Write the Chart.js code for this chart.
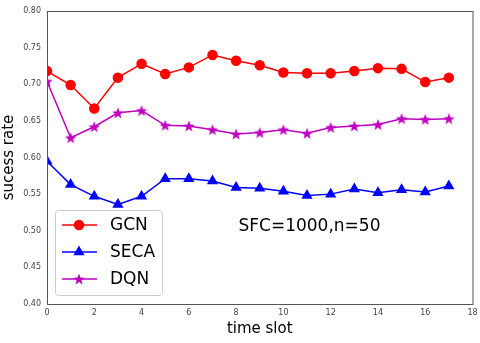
<!DOCTYPE html>
<html>
<head>
<meta charset="utf-8">
<script src="https://cdn.jsdelivr.net/npm/chart.js@4"></script>
<style>
  html, body { margin: 0; padding: 0; background: #fff; }
  #wrap { width: 480px; height: 343px; position: relative; }
</style>
</head>
<body>
<div id="wrap"><canvas id="chart"></canvas></div>
<script>
// time slots 0..17
const timeSlots = [0, 1, 2, 3, 4, 5, 6, 7, 8, 9, 10, 11, 12, 13, 14, 15, 16, 17];
const gcnRate  = [0.718, 0.699, 0.667, 0.709, 0.728, 0.714, 0.723, 0.740, 0.732, 0.726, 0.716, 0.715, 0.715, 0.718, 0.722, 0.721, 0.703, 0.709];
const secaRate = [0.595, 0.563, 0.547, 0.536, 0.547, 0.571, 0.571, 0.568, 0.559, 0.558, 0.554, 0.548, 0.550, 0.557, 0.552, 0.556, 0.553, 0.561];
const dqnRate  = [0.704, 0.627, 0.642, 0.661, 0.664, 0.644, 0.643, 0.638, 0.632, 0.634, 0.638, 0.633, 0.641, 0.643, 0.645, 0.653, 0.652, 0.653];
const seriesNames = ['GCN', 'SECA', 'DQN'];
const note = 'SFC=1000,n=50';

const FONT = '"DejaVu Sans", sans-serif';

function pts(vals) {
    return timeSlots.map((t, i) => ({ x: t, y: vals[i] }));
}

// filled five point star, matplotlib '*' style
function makeStar(color, size) {
    const cv = document.createElement('canvas');
    cv.width = size; cv.height = size;
    const c = cv.getContext('2d');
    const cx = size / 2, cy = size / 2 + 0.6;
    const R = size / 2, r = R * 0.42;
    c.beginPath();
    for (let i = 0; i < 10; i++) {
        const rad = i % 2 === 0 ? R : r;
        const ang = -Math.PI / 2 + i * Math.PI / 5;
        const px = cx + rad * Math.cos(ang), py = cy + rad * Math.sin(ang);
        if (i === 0) c.moveTo(px, py); else c.lineTo(px, py);
    }
    c.closePath();
    c.fillStyle = color;
    c.fill();
    return cv;
}
const starImg = makeStar('#bf00bf', 12);

// frame around the plot area
const framePlugin = {
    id: 'frame',
    afterDatasetsDraw(chart) {
        const a = chart.chartArea, c = chart.ctx;
        c.save();
        c.strokeStyle = '#555';
        c.lineWidth = 1;
        c.strokeRect(a.left + 0.5, a.top + 0.5, a.right - a.left, a.bottom - a.top);
        c.restore();
    }
};

// text note + legend drawn inside the plot
const insidePlugin = {
    id: 'inside',
    afterDraw(chart) {
        const c = chart.ctx;
        const xs = chart.scales.x, ys = chart.scales.y;
        c.save();
        c.fillStyle = '#000';
        c.font = '17px ' + FONT;
        c.textBaseline = 'middle';
        c.textAlign = 'left';
        c.fillText(note, xs.getPixelForValue(8.1), ys.getPixelForValue(0.506));

        // legend box
        const bx = 55, by = 210, bw = 107, bh = 85;
        c.fillStyle = 'rgba(255,255,255,0.8)';
        c.strokeStyle = '#ccc';
        c.lineWidth = 1;
        c.beginPath();
        c.roundRect(bx + 0.5, by + 0.5, bw, bh, 3);
        c.fill();
        c.stroke();

        chart.data.datasets.forEach((ds, i) => {
            const y = by + 15 + i * 27;
            c.strokeStyle = ds.borderColor;
            c.lineWidth = 1.5;
            c.beginPath();
            c.moveTo(bx + 7, y);
            c.lineTo(bx + 42, y);
            c.stroke();
            c.fillStyle = ds.pointBackgroundColor;
            c.strokeStyle = ds.pointBorderColor;
            Chart.helpers.drawPoint(c, {
                pointStyle: ds.pointStyle,
                radius: ds.pointRadius,
                borderWidth: 1
            }, bx + 24, y);
            c.fillStyle = '#000';
            c.font = '17px ' + FONT;
            c.fillText(ds.label, bx + 55, y + 1);
        });
        c.restore();
    }
};

const config = {
    type: 'line',
    data: {
        datasets: [
            {
                label: seriesNames[0],
                data: pts(gcnRate),
                borderColor: '#ff0000',
                backgroundColor: '#ff0000',
                pointBackgroundColor: '#ff0000',
                pointBorderColor: '#ff0000',
                pointStyle: 'circle',
                pointRadius: 4.5,
                borderWidth: 1.5
            },
            {
                label: seriesNames[1],
                data: pts(secaRate),
                borderColor: '#0000ff',
                backgroundColor: '#0000ff',
                pointBackgroundColor: '#0000ff',
                pointBorderColor: '#0000ff',
                pointStyle: 'triangle',
                pointRadius: 5,
                borderWidth: 1.5
            },
            {
                label: seriesNames[2],
                data: pts(dqnRate),
                borderColor: '#bf00bf',
                backgroundColor: '#bf00bf',
                pointBackgroundColor: '#bf00bf',
                pointBorderColor: '#bf00bf',
                pointStyle: starImg,
                pointRadius: 6,
                borderWidth: 1.5
            }
        ]
    },
    options: {
        responsive: true,
        maintainAspectRatio: false,
        animation: false,
        layout: { padding: { top: 11, right: 7, left: 0, bottom: 0 } },
        plugins: {
            legend: { display: false },
            tooltip: { enabled: false }
        },
        scales: {
            x: {
                type: 'linear',
                min: 0,
                max: 18,
                grid: { display: false, drawTicks: true, tickLength: 3 },
                border: { display: false },
                ticks: {
                    stepSize: 2,
                    color: '#444',
                    font: { family: FONT, size: 8 },
                    padding: 1,
                    maxRotation: 0
                },
                title: {
                    display: true,
                    text: 'time slot',
                    color: '#000',
                    font: { family: FONT, size: 15 },
                    padding: { top: 0, bottom: 5 }
                },
                afterFit(scale) { scale.height = 39; }
            },
            y: {
                min: 0.4,
                max: 0.8,
                grid: { display: false, tickLength: 3 },
                border: { display: false },
                ticks: {
                    stepSize: 0.05,
                    color: '#444',
                    font: { family: FONT, size: 8 },
                    padding: 3,
                    callback: v => v.toFixed(2)
                },
                title: {
                    display: true,
                    text: 'sucess rate',
                    color: '#000',
                    font: { family: FONT, size: 15 },
                    padding: { top: 0, bottom: 2 }
                },
                afterFit(scale) { scale.width = 47; }
            }
        }
    },
    plugins: [framePlugin, insidePlugin]
};

new Chart(document.getElementById('chart').getContext('2d'), config);
</script>
</body>
</html>
